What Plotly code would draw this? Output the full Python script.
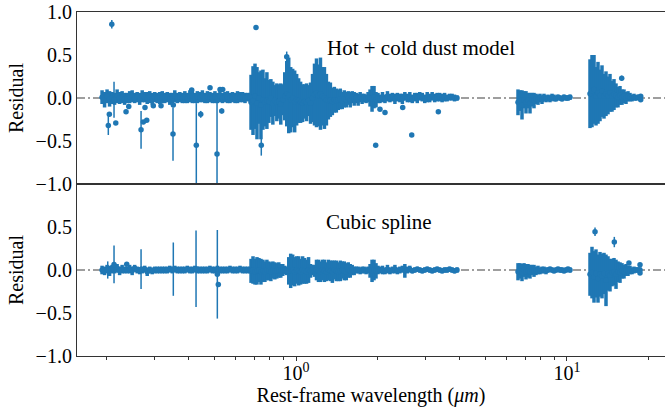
import numpy as np
import plotly.graph_objects as go
from plotly.subplots import make_subplots

# Wavelength limits (micron) of the five spectral segments.
# Pixels inside each segment are evenly spaced in log-wavelength.
seg_a_lam = (0.1924, 0.6766)
seg_b_lam = (0.6823, 2.041)
seg_c_lam = (2.085, 3.928)
seg_d_lam = (6.595, 10.26)
seg_e_lam = (12.16, 18.60)

# Residuals and 1-sigma errors per pixel, stored in units of 0.01
# --- hot + cold dust model ---
hot_a_res = [1, -2, 2, -1, 0, -1, 2, 0, 1, -1, 0, 1, 2, 0, 1, -1,
             2, 1, 0, 1, -1, 1, 0, 0, 1, 0, 1, -1, 0, 2, 0, 1,
             0, 1, 0, 2, 2, 0, 1, 1, 2, 0, 1, 1, 0, 1, 0, 2,
             0, 1, 1, 0, 1, 0, 1, 1, 1, 0, 1, 1]
hot_a_err = [8, 9, 8, 9, 7, 7, 8, 7, 7, 7, 6, 7, 7, 6, 6, 7,
             7, 6, 7, 7, 7, 6, 6, 7, 7, 6, 6, 7, 6, 7, 6, 6,
             6, 7, 6, 7, 8, 6, 7, 6, 7, 6, 7, 6, 6, 7, 6, 7,
             6, 6, 7, 6, 6, 6, 7, 6, 6, 6, 5, 5]
hot_b_res = [-5, -3, 2, -6, 0, -8, -2, -5, -3, -4,
             0, -6, -3, -5, -4, -7, -2, 2, 5, 3,
             -2, 0, -4, -2, -3, -5, -6, -4, -5, -3,
             -6, 0, 4, 6, 3, 5, 2, 0, -2, -3,
             -2, -4, -2, -3, -2, -1, -3, -1, -2, 0,
             -2, 1, -1, 0, -2, 1, -1, 0, -1, 1,
             0, -1, 1, -2, 0, -1]
hot_b_err = [32, 40, 38, 42, 30, 40, 35, 28, 33, 25,
             22, 25, 18, 22, 20, 24, 18, 28, 38, 44,
             38, 34, 36, 30, 26, 24, 22, 20, 22, 18,
             24, 28, 36, 40, 36, 42, 34, 36, 30, 22,
             20, 16, 15, 14, 12, 12, 10, 10, 9, 8,
             9, 7, 8, 6, 7, 6, 6, 5, 5, 6,
             10, 15, 13, 9, 6, 5]
hot_c_res = [1, -1, 2, 0, 1, -1, 1, 0, -1, 2, 0, 1, -1, 1, 0, 2,
             1, -1, 1, 0, 2, 0, 1, 1, 0, 1, 0, 1, 1, 0, 0]
hot_c_err = [6, 5, 6, 5, 5, 6, 5, 5, 6, 5, 5, 6, 5, 5, 6, 5,
             5, 5, 6, 5, 5, 5, 5, 5, 5, 5, 4, 4, 4, 4, 3]
hot_d_res = [-5, -3, -8, -2, -5, -3, -6, -2, -3, -1, -2, 0, -2, 1,
             -1, 0, -1, 1, 0, -1, 1, 0, -1, 1, 0, 0, 1]
hot_d_err = [15, 12, 17, 10, 13, 9, 12, 8, 9, 6, 6, 5, 5, 4,
             4, 4, 4, 4, 4, 3, 3, 3, 3, 3, 3, 3, 3]
hot_e_res = [5, 8, 10, 2, 6, 3, 8, 2, 5, 3, 6, 2, 4,
             3, 1, 3, 1, 2, 0, 2, 1, 0, 1, 0, 1, 0]
hot_e_err = [40, 42, 40, 34, 36, 30, 30, 26, 26, 22, 22, 18, 18,
             14, 12, 11, 9, 8, 7, 6, 5, 4, 4, 3, 3, 3]

# isolated pixels of the dust-model residuals (micron, residual, error)
hot_out_lam = [0.2090, 0.2130, 0.2029, 0.2047, 0.2162, 0.2359, 0.2414, 0.2680,
               0.2732, 0.2812, 0.2771, 0.2974, 0.3176, 0.3516, 0.3525, 0.4121,
               0.4286, 0.4449, 0.4816, 0.5111, 0.5243, 0.5319, 0.5364, 0.7117,
               0.7445, 0.9240, 1.968, 2.041, 2.130, 2.476, 2.673, 3.351,
               15.92, 18.71, 18.71]
hot_out_res = [0.857, -0.02, -0.32, -0.19, -0.29, -0.16, -0.10, -0.37,
               -0.28, -0.26, -0.11, -0.09, -0.09, -0.42, -0.08, 0.093,
               -0.55, -0.19, 0.12, -0.65, 0.10, -0.15, 0.10, 0.82,
               -0.55, 0.48, -0.55, -0.13, -0.17, -0.11, -0.43, -0.16,
               0.23, 0.02, -0.02]
hot_out_err = [0.05, 0.21, 0.11, 0.02, 0.02, 0.02, 0.02, 0.22,
               0.02, 0.02, 0.02, 0.02, 0.02, 0.31, 0.02, 0.02,
               0.49, 0.04, 0.02, 0.60, 0.02, 0.03, 0.02, 0.01,
               0.12, 0.06, 0.02, 0.02, 0.02, 0.02, 0.02, 0.02,
               0.03, 0.02, 0.02]

# --- cubic spline ---
spl_a_res = [0, -1, 1, -1, 1, 0, 2, -1, 1, 0, 0, 1, -1, 2, 0, -1,
             0, 1, -2, 0, -1, 0, 0, 0, 0, 0, 0, 1, 0, 1, 0, 0,
             0, 0, 1, 0, 0, 1, 0, 0, 0, 0, 0, 1, 0, 0, 1, 0,
             0, 0, 0, 1, 0, 0, 0, 1, 0, 0, 0, 0]
spl_a_err = [5, 5, 5, 6, 5, 4, 5, 5, 5, 4, 4, 5, 5, 4, 4, 4,
             4, 4, 5, 4, 4, 4, 4, 4, 4, 4, 4, 4, 4, 4, 4, 4,
             4, 4, 4, 4, 4, 4, 4, 4, 4, 4, 4, 4, 4, 4, 4, 4,
             4, 4, 4, 4, 4, 4, 4, 4, 4, 4, 4, 4]
spl_b_res = [-1, 0, -2, -1, 0, -2, -1, -2, 0, -1,
             -2, 0, -1, -1, 0, -1, 0, 0, -1, -1,
             -1, 0, -2, 0, -1, -2, 0, -1, -2, 0,
             -1, 0, -1, 0, -1, -2, 0, -1, -2, 0,
             -1, -2, 0, -1, -2, -1, 0, -1, -2, 0,
             -1, 0, -1, 0, 0, -1, 0, 0, -1, 0,
             -1, -1, 0, -1, 0, 0]
spl_b_err = [14, 16, 15, 16, 14, 15, 13, 12, 12, 11,
             11, 10, 10, 9, 9, 8, 7, 5, 5, 16,
             20, 18, 17, 16, 17, 15, 16, 15, 14, 15,
             8, 6, 7, 12, 13, 12, 12, 13, 11, 12,
             12, 13, 11, 12, 11, 12, 10, 11, 10, 9,
             8, 6, 5, 4, 4, 4, 4, 4, 4, 4,
             8, 13, 12, 9, 5, 4]
spl_c_res = [0, -1, 1, -1, 0, 1, -1, 0, 1, -1, 0, 1, -1, 0, 1, 0,
             -1, 0, 1, 0, -1, 0, 1, 0, -1, 0, 0, 1, 0, -1, 0]
spl_c_err = [5, 4, 5, 4, 4, 5, 4, 4, 4, 8, 4, 4, 3, 3, 3, 3,
             3, 3, 3, 3, 3, 3, 3, 3, 3, 3, 3, 3, 3, 3, 3]
spl_d_res = [-2, -1, -3, 0, -2, -1, -2, 0, -1, -1, 0, -1, 0, 0,
             -1, 0, 1, 0, -1, 0, 1, 0, 0, -1, 0, 1, 0]
spl_d_err = [10, 9, 10, 8, 9, 8, 8, 6, 7, 5, 5, 4, 4, 4,
             4, 3, 3, 3, 3, 3, 3, 3, 3, 3, 3, 3, 3]
spl_e_res = [-5, -3, -8, -4, -10, -5, -7, -4, -12, -4, -6, -3, -2,
             -5, -2, -3, -1, -2, 0, -1, 0, -1, 0, 0, 0, 0]
spl_e_err = [25, 30, 30, 28, 28, 26, 26, 24, 30, 20, 19, 16, 16,
             17, 12, 12, 9, 8, 7, 6, 5, 4, 4, 3, 3, 3]

spl_out_lam = [0.2130, 0.2019, 0.2680, 0.3525, 0.4276, 0.5124, 0.5167,
               0.2373, 12.69, 14.95, 16.93, 18.60, 18.60]
spl_out_res = [0.065, 0.0, 0.01, 0.01, 0.015, -0.05, -0.17,
               0.066, 0.445, 0.325, 0.08, 0.06, -0.035]
spl_out_err = [0.22, 0.10, 0.23, 0.31, 0.445, 0.515, 0.02,
               0.02, 0.05, 0.06, 0.02, 0.02, 0.02]

y_ticks_top = [-1.0, -0.5, 0.0, 0.5, 1.0]
y_ticks_bottom = [-1.0, -0.5, 0.0, 0.5]
x_major = [1, 10]
x_major_text = ["10<sup>0</sup>", "10<sup>1</sup>"]
x_minor = [0.2, 0.3, 0.4, 0.5, 0.6, 0.7, 0.8, 0.9,
           2, 3, 4, 5, 6, 7, 8, 9, 20]

BLUE = "#1f77b4"
FONT = "Liberation Serif"

segments = [seg_a_lam, seg_b_lam, seg_c_lam, seg_d_lam, seg_e_lam]
hot_res = [hot_a_res, hot_b_res, hot_c_res, hot_d_res, hot_e_res]
hot_err = [hot_a_err, hot_b_err, hot_c_err, hot_d_err, hot_e_err]
spl_res = [spl_a_res, spl_b_res, spl_c_res, spl_d_res, spl_e_res]
spl_err = [spl_a_err, spl_b_err, spl_c_err, spl_d_err, spl_e_err]


def stitch(res_lists, err_lists):
    lam, res, err = [], [], []
    for (lo, hi), r, e in zip(segments, res_lists, err_lists):
        lam.append(np.geomspace(lo, hi, len(r)))
        res.append(np.asarray(r, float) / 100)
        err.append(np.asarray(e, float) / 100)
    return np.concatenate(lam), np.concatenate(res), np.concatenate(err)


fig = make_subplots(rows=2, cols=1, shared_xaxes=True, vertical_spacing=0)

for row, (rl, el), (ol, orr, oe) in [
    (1, (hot_res, hot_err), (hot_out_lam, hot_out_res, hot_out_err)),
    (2, (spl_res, spl_err), (spl_out_lam, spl_out_res, spl_out_err)),
]:
    lam, res, err = stitch(rl, el)
    fig.add_trace(go.Scatter(
        x=lam, y=res, mode="markers",
        marker=dict(color=BLUE, size=5.5),
        error_y=dict(type="data", array=err, color=BLUE, thickness=3.5, width=0),
        showlegend=False, hoverinfo="skip"), row=row, col=1)
    fig.add_trace(go.Scatter(
        x=ol, y=orr, mode="markers",
        marker=dict(color=BLUE, size=5.5),
        error_y=dict(type="data", array=oe, color=BLUE, thickness=1.5, width=0),
        showlegend=False, hoverinfo="skip"), row=row, col=1)
    fig.add_hline(y=0, line=dict(color="#7f7f7f", width=1.4, dash="8px,3px,2px,3px"),
                  layer="below", row=row, col=1)

xrange = [np.log10(0.1555), np.log10(23.0)]
axis_line = dict(showline=True, linecolor="#333333", linewidth=1.2,
                 showgrid=False, zeroline=False)

fig.update_xaxes(type="log", range=xrange, mirror=True, ticks="",
                 showticklabels=False, row=1, col=1, **axis_line)
fig.update_xaxes(type="log", range=xrange, mirror=True,
                 tickvals=x_major, ticktext=x_major_text,
                 ticks="outside", ticklen=4, tickcolor="#333333",
                 ticklabelstandoff=-5,
                 minor=dict(tickvals=x_minor, ticks="outside", ticklen=2.5,
                            tickcolor="#333333", showgrid=False),
                 title=dict(text="Rest-frame wavelength (<i>μm</i>)",
                            font=dict(family=FONT, size=20), standoff=2),
                 row=2, col=1, **axis_line)

for row, tv in [(1, y_ticks_top), (2, y_ticks_bottom)]:
    fig.update_yaxes(range=[-1, 1], tickvals=tv,
                     ticktext=[f"{v:.1f}".replace("-", "\u2212") for v in tv],
                     ticks="", mirror=False,
                     title=dict(text="Residual", font=dict(family=FONT, size=20), standoff=6),
                     row=row, col=1, **axis_line)

fig.add_annotation(text="Hot + cold dust model", xref="paper", yref="paper",
                   x=0.585, y=0.895, xanchor="center", yanchor="middle",
                   showarrow=False, font=dict(family=FONT, size=21, color="black"))
fig.add_annotation(text="Cubic spline", xref="paper", yref="paper",
                   x=0.514, y=0.3895, xanchor="center", yanchor="middle",
                   showarrow=False, font=dict(family=FONT, size=21, color="black"))

fig.update_layout(
    width=665, height=410,
    margin=dict(l=77, r=0, t=12, b=54),
    paper_bgcolor="white", plot_bgcolor="white",
    font=dict(family=FONT, size=20, color="black"),
)

fig.write_html("out.html")
